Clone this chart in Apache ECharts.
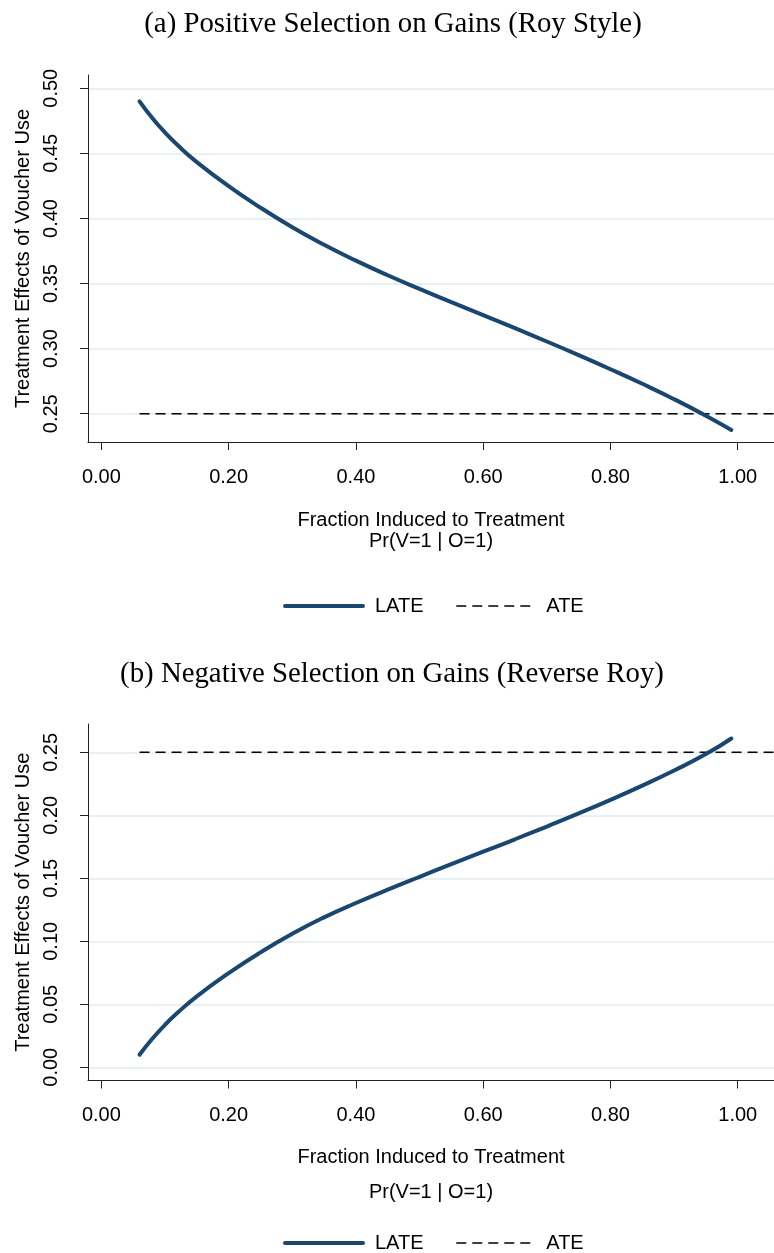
<!DOCTYPE html>
<html><head><meta charset="utf-8">
<script src="https://cdn.jsdelivr.net/npm/echarts@6/dist/echarts.min.js"></script>
<style>html,body{margin:0;padding:0;background:#fff}#c{width:774px;height:1253px}</style>
</head><body><div id="c"></div>
<script>
const titleA = '(a) Positive Selection on Gains (Roy Style)';
const titleB = '(b) Negative Selection on Gains (Reverse Roy)';
const xName = 'Fraction Induced to Treatment\nPr(V=1 | O=1)';
const yName = 'Treatment Effects of Voucher Use';
const xTicks = [0, 0.2, 0.4, 0.6, 0.8, 1.0];
const yTicksA = [0.25, 0.30, 0.35, 0.40, 0.45, 0.50];
const yTicksB = [0.00, 0.05, 0.10, 0.15, 0.20, 0.25];
const fracX = [0.06, 0.08, 0.10, 0.12, 0.15, 0.20, 0.25, 0.30, 0.35, 0.40, 0.45, 0.50, 0.55, 0.60, 0.65, 0.70, 0.75, 0.80, 0.85, 0.90, 0.95, 0.99];
const lateA = [0.490, 0.4772, 0.4660, 0.4562, 0.4433, 0.4248, 0.4083, 0.3933, 0.3798, 0.3676, 0.3564, 0.3459, 0.3357, 0.3257, 0.3157, 0.3055, 0.2950, 0.2842, 0.2730, 0.2612, 0.2485, 0.2375];
const lateB = [0.010, 0.0226, 0.0337, 0.0434, 0.0563, 0.0747, 0.0912, 0.1060, 0.1190, 0.1304, 0.1410, 0.1512, 0.1612, 0.1711, 0.1810, 0.1911, 0.2015, 0.2123, 0.2236, 0.2356, 0.2486, 0.2610];
const ateX = [0.06, 1.057];
const ateValue = 0.25;

const SANS = 'Liberation Sans';
const NAVY = '#1a476f';
const fmt = v => v.toFixed(2);

function xAxisCfg(gridIndex, lh, gap) {
  return {
    type: 'value', gridIndex, min: -0.021, max: 1.057,
    axisLine: { onZero: false, lineStyle: { color: '#222', width: 1 } },
    axisTick: { show: true, length: 8, customValues: xTicks, lineStyle: { color: '#222' } },
    axisLabel: { customValues: xTicks, formatter: fmt, fontSize: 20, color: '#000', fontFamily: SANS, margin: 25 },
    splitLine: { show: false },
    name: xName, nameLocation: 'middle', nameGap: gap,
    nameTextStyle: { fontSize: 20, color: '#000', fontFamily: SANS, lineHeight: lh }
  };
}
function yAxisCfg(gridIndex, min, max, ticks) {
  return {
    type: 'value', gridIndex, min, max,
    axisLine: { onZero: false, lineStyle: { color: '#222', width: 1 } },
    axisTick: { show: true, length: 8, customValues: ticks, lineStyle: { color: '#222' } },
    axisLabel: { customValues: ticks, formatter: fmt, rotate: 90, fontSize: 20, color: '#000', fontFamily: SANS, margin: 27 },
    splitLine: { show: true, lineStyle: { color: '#e2ebee', width: 1.5 } },
    name: yName, nameLocation: 'middle', nameGap: 55, nameRotate: 90,
    nameTextStyle: { fontSize: 20, color: '#000', fontFamily: SANS }
  };
}
function lateSeries(idx, vals) {
  return {
    name: 'LATE', type: 'line', xAxisIndex: idx, yAxisIndex: idx, smooth: 0.5, symbol: 'none',
    lineStyle: { color: NAVY, width: 4, cap: 'round' }, itemStyle: { color: NAVY },
    data: fracX.map((x, i) => [x, vals[i]]), z: 3
  };
}
function ateSeries(idx) {
  return {
    name: 'ATE', type: 'line', xAxisIndex: idx, yAxisIndex: idx, symbol: 'none',
    lineStyle: { color: '#000', width: 1.5, type: [10, 6] }, itemStyle: { color: '#000' },
    data: ateX.map(x => [x, ateValue]), z: 2
  };
}
function legendCfg(top) {
  return {
    top, left: 278, itemWidth: 78, itemHeight: 14, itemGap: 32,
    data: [
      { name: 'LATE', lineStyle: { width: 4, color: NAVY } },
      { name: 'ATE', lineStyle: { width: 1.5, color: '#000', type: [10, 6] } }
    ],
    selectedMode: false,
    itemStyle: { opacity: 0 },
    textStyle: { fontSize: 20, color: '#000', fontFamily: SANS, padding: [0, 0, 0, 7] }
  };
}

const chart = echarts.init(document.getElementById('c'), null, { renderer: 'canvas' });
chart.setOption({
  animation: false,
  backgroundColor: '#fff',
  title: [
    { text: titleA, left: 388, textAlign: 'center', top: 5, textStyle: { fontFamily: 'Liberation Serif', fontWeight: 'normal', fontSize: 28.8, color: '#000' } },
    { text: titleB, left: 387, textAlign: 'center', top: 655, textStyle: { fontFamily: 'Liberation Serif', fontWeight: 'normal', fontSize: 28.8, color: '#000' } }
  ],
  grid: [
    { left: 88, top: 75, width: 686, height: 367, containLabel: false },
    { left: 88, top: 724, width: 686, height: 356.5, containLabel: false }
  ],
  xAxis: [xAxisCfg(0, 21, 68), xAxisCfg(1, 35, 59)],
  yAxis: [yAxisCfg(0, 0.2283, 0.5102, yTicksA), yAxisCfg(1, -0.0105, 0.2725, yTicksB)],
  legend: [legendCfg(591), legendCfg(1228)],
  series: [lateSeries(0, lateA), ateSeries(0), lateSeries(1, lateB), ateSeries(1)]
});
</script></body></html>
